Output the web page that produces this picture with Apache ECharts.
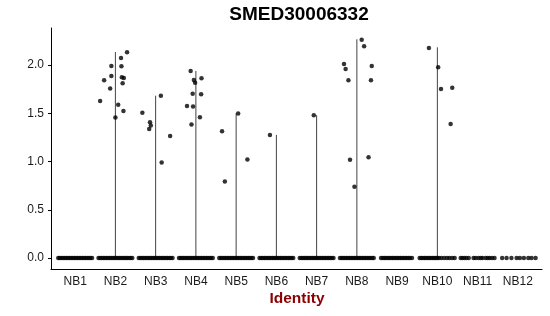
<!DOCTYPE html>
<html>
<head>
<meta charset="utf-8">
<script src="https://cdn.jsdelivr.net/npm/echarts@6/dist/echarts.min.js"></script>
<style>html,body{margin:0;padding:0;background:#fff}#c{width:550px;height:316px}</style>
</head>
<body>
<div id="c"></div>
<script>
const categories = ['NB1','NB2','NB3','NB4','NB5','NB6','NB7','NB8','NB9','NB10','NB11','NB12'];
const yTicks = [0, 0.5, 1.0, 1.5, 2.0];
// max of each violin (0 = all cells zero)
const violinMax = [0, 2.135, 1.683, 1.939, 1.50, 1.276, 1.48, 2.267, 0, 2.184, 0, 0];

// expressed cells: [jitter offset, expression]
const ptsNB2 = [[-0.38,1.628],[-0.28,1.843],[-0.13,1.756],[-0.10,1.887],[-0.10,1.991],[0.0,1.456],[0.07,1.59],[0.14,2.073],[0.15,1.987],[0.16,1.874],[0.21,1.866],[0.18,1.811],[0.20,1.525],[0.29,2.132]];
const ptsNB3 = [[-0.33,1.507],[-0.14,1.408],[-0.12,1.373],[-0.16,1.338],[0.13,1.683],[0.15,0.990],[0.36,1.266]];
const ptsNB4 = [[-0.22,1.577],[-0.13,1.939],[-0.11,1.383],[-0.08,1.704],[-0.07,1.570],[-0.05,1.846],[-0.02,1.818],[0.10,1.459],[0.13,1.698],[0.14,1.863]];
const ptsNB5 = [[-0.35,1.315],[-0.28,0.793],[0.05,1.497],[0.28,1.021]];
const ptsNB6 = [[-0.16,1.276]];
const ptsNB7 = [[-0.07,1.480]];
const ptsNB8 = [[-0.32,2.011],[-0.28,1.960],[-0.21,1.843],[-0.17,1.018],[-0.06,0.738],[0.12,2.263],[0.18,2.195],[0.29,1.045],[0.35,1.843],[0.37,1.991]];
const ptsNB10 = [[-0.21,2.177],[0.02,1.977],[0.09,1.753],[0.37,1.766],[0.33,1.390]];
const expressedPts = [[], ptsNB2, ptsNB3, ptsNB4, ptsNB5, ptsNB6, ptsNB7, ptsNB8, [], ptsNB10, [], []];

// zero-expression cells: jitter offsets
const zeroDense = [-0.42,-0.38,-0.34,-0.30,-0.26,-0.22,-0.18,-0.14,-0.10,-0.06,-0.02,0.02,0.06,0.10,0.14,0.18,0.22,0.26,0.30,0.34,0.38,0.42];
const zeroNB9 = [-0.40,-0.36,-0.32,-0.28,-0.24,-0.20,-0.16,-0.12,-0.08,-0.04,0,0.04,0.08,0.12,0.16,0.20,0.24,0.28,0.32,0.37];
const zeroNB10 = [-0.44,-0.40,-0.36,-0.32,-0.28,-0.24,-0.20,-0.16,-0.12,-0.08,-0.04,0,0.04,0.10,0.17,0.24,0.30,0.37,0.43];
const zeroNB11 = [-0.42,-0.38,-0.33,-0.28,-0.22,-0.10,-0.05,0.02,0.08,0.12,0.20,0.25,0.30,0.36,0.42];
const zeroNB12 = [-0.39,-0.28,-0.16,-0.03,0.05,0.15,0.26,0.34,0.44];
const zeroJitter = [zeroDense, zeroDense, zeroDense, zeroDense, zeroDense, zeroDense, zeroDense, zeroDense, zeroNB9, zeroNB10, zeroNB11, zeroNB12];

const FONT = '"Liberation Sans", Arial, Helvetica, sans-serif';

const zeroData = [];
zeroJitter.forEach((offs, i) => offs.forEach(d => zeroData.push([i + d, 0])));
const exprData = [];
expressedPts.forEach((pts, i) => pts.forEach(p => exprData.push([i + p[0], p[1]])));
const violinData = [];
violinMax.forEach((m, i) => { if (m > 0) violinData.push([i, m]); });

const chart = echarts.init(document.getElementById('c'), null, {renderer: 'canvas'});
chart.setOption({
  animation: false,
  backgroundColor: '#fff',
  grid: {left: 51, right: 8, top: 28, bottom: 47, containLabel: false},
  xAxis: {
    type: 'value', min: -0.6, max: 11.6,
    axisLine: {show: true, onZero: false, lineStyle: {color: '#000', width: 1}},
    axisTick: {show: false},
    splitLine: {show: false},
    axisLabel: {
      customValues: categories.map((c, i) => i),
      formatter: v => categories[Math.round(v)],
      color: '#1a1a1a', fontSize: 12, fontFamily: FONT, margin: 7
    }
  },
  yAxis: {
    type: 'value', min: -0.113, max: 2.384,
    axisLine: {show: true, onZero: false, lineStyle: {color: '#000', width: 1}},
    axisTick: {show: true, length: 3, customValues: yTicks, lineStyle: {color: '#000'}},
    splitLine: {show: false},
    axisLabel: {
      customValues: yTicks,
      formatter: v => v.toFixed(1),
      color: '#1a1a1a', fontSize: 12, fontFamily: FONT, margin: 7
    }
  },
  graphic: [
    {type: 'text', x: 299, y: 15, z: 10,
     style: {text: 'SMED30006332', align: 'center', verticalAlign: 'middle', font: 'bold 19px ' + FONT, fill: '#000'}},
    {type: 'text', x: 297, y: 299, z: 10,
     style: {text: 'Identity', align: 'center', verticalAlign: 'middle', font: 'bold 15.5px ' + FONT, fill: '#8B0000'}}
  ],
  series: [
    {
      type: 'custom',
      data: violinData,
      z: 1,
      renderItem: (params, api) => {
        const p0 = api.coord([api.value(0), 0]);
        const p1 = api.coord([api.value(0), api.value(1)]);
        return {type: 'line', shape: {x1: p0[0], y1: p0[1], x2: p1[0], y2: p1[1]},
                style: {stroke: '#444', lineWidth: 1}};
      }
    },
    {type: 'scatter', data: zeroData, symbolSize: 4.5, itemStyle: {color: '#000'}, z: 3, silent: true},
    {type: 'scatter', data: exprData, symbolSize: 4.5, itemStyle: {color: '#000'}, z: 3, silent: true}
  ]
});
</script>
</body>
</html>
